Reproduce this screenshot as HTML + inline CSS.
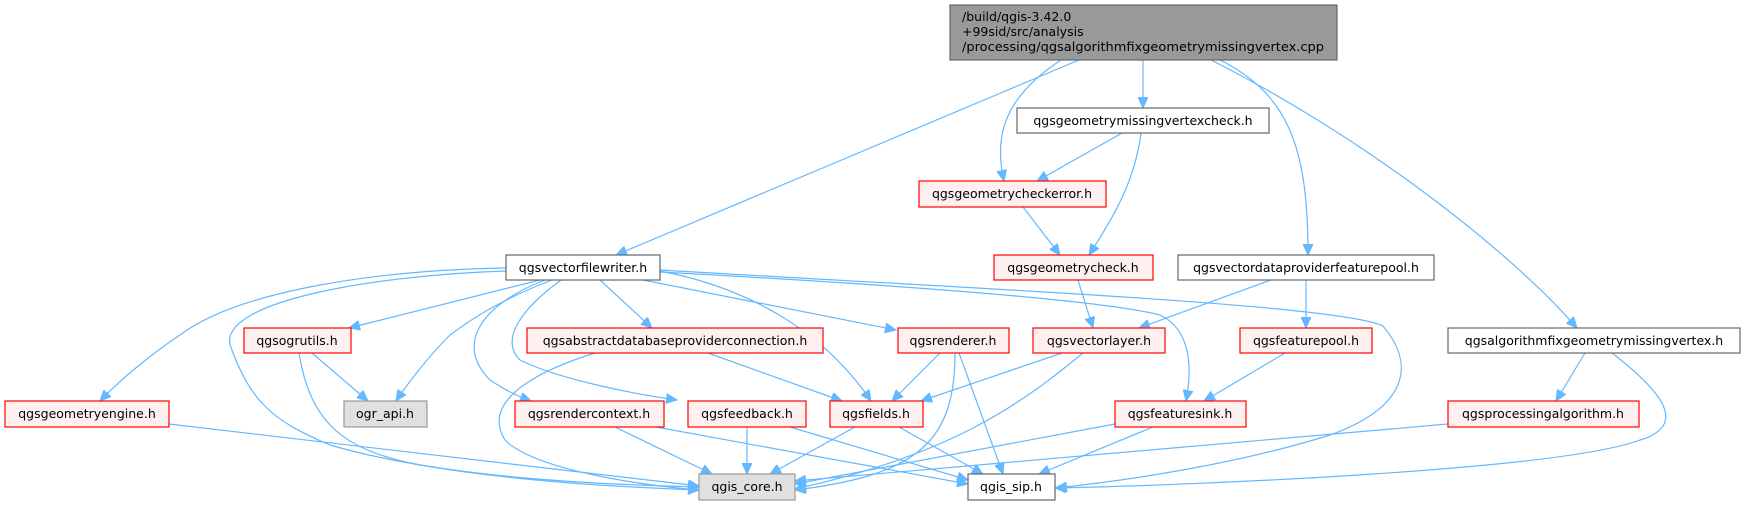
<!DOCTYPE html>
<html><head><meta charset="utf-8"><style>
html,body{margin:0;padding:0;background:#fff;}
svg{display:block;}
text{font-family:"DejaVu Sans","Liberation Sans",sans-serif;font-size:12.5px;fill:#000;}
.e{fill:none;stroke:#63b8ff;stroke-width:1.2;}
.r{fill:#fff0f0;stroke:#ff0000;stroke-width:1.2;}
.w{fill:#fff;stroke:#666;stroke-width:1.2;}
.g{fill:#e0e0e0;stroke:#999;stroke-width:1.2;}
</style></head><body>
<svg width="1745" height="505" viewBox="0 0 1745 505" xmlns="http://www.w3.org/2000/svg">
<defs>
<marker id="a" markerUnits="userSpaceOnUse" markerWidth="12" markerHeight="10" refX="11" refY="5" orient="auto">
<path d="M0,0 L11,5 L0,10 z" fill="#63b8ff" stroke="#63b8ff"/>
</marker>
</defs>
<g marker-end="url(#a)">
<!-- from top cpp -->
<path class="e" d="M1079,60 L616,255"/>
<path class="e" d="M1061,60 C1000,100 995,140 1004,181"/>
<path class="e" d="M1143,60 L1143,108"/>
<path class="e" d="M1220,60 C1290,95 1308,150 1308,255"/>
<path class="e" d="M1211,60 C1350,130 1500,240 1577,328"/>
<!-- missingvertexcheck -->
<path class="e" d="M1122,133 L1037,181"/>
<path class="e" d="M1141,133 C1135,180 1115,215 1089,255"/>
<!-- checkerror -->
<path class="e" d="M1023,207 L1060,255"/>
<!-- geometrycheck -->
<path class="e" d="M1078,280 L1093,328"/>
<!-- vectordataproviderfeaturepool -->
<path class="e" d="M1271,280 L1139,328"/>
<path class="e" d="M1306,280 L1306,328"/>
<!-- featurepool -->
<path class="e" d="M1285,353 L1204,401"/>
<!-- algorithmfix -->
<path class="e" d="M1585,353 L1556,401"/>
<path class="e" d="M1612,353 C1660,390 1690,425 1640,440 C1560,470 1200,485 1055,488"/>
<!-- processingalgorithm -->
<path class="e" d="M1448,424 L795,481"/>
<!-- featuresink -->
<path class="e" d="M1115,424 L795,484"/>
<path class="e" d="M1153,427 L1039,474"/>
<!-- vectorlayer -->
<path class="e" d="M1062,353 L921,401"/>
<path class="e" d="M1083,353 C1020,405 950,455 795,489"/>
<!-- renderer -->
<path class="e" d="M940,353 L892,401"/>
<path class="e" d="M955,353 C955,440 920,475 795,490"/>
<path class="e" d="M959,353 L1003,474"/>
<!-- abstract -->
<path class="e" d="M708,353 L842,401"/>
<path class="e" d="M595,353 C540,370 480,400 505,440 C535,470 640,485 699,490"/>
<!-- fields -->
<path class="e" d="M855,427 L770,474"/>
<path class="e" d="M899,427 L983,474"/>
<!-- feedback -->
<path class="e" d="M747,427 L747,474"/>
<path class="e" d="M790,427 L968,480"/>
<!-- rendercontext -->
<path class="e" d="M615,427 L712,474"/>
<path class="e" d="M656,427 L968,484"/>
<!-- ogrutils -->
<path class="e" d="M312,353 L368,401"/>
<path class="e" d="M299,353 C310,420 340,450 420,465 C520,482 620,487 699,490"/>
<!-- geometryengine -->
<path class="e" d="M169,424 L699,486"/>
<!-- vectorfilewriter -->
<path class="e" d="M506,268 C380,270 240,290 180,335 C150,355 120,380 100,401"/>
<path class="e" d="M506,271 C380,275 220,300 230,345 C250,400 270,420 330,445 C450,480 620,485 699,487"/>
<path class="e" d="M540,280 L349,328"/>
<path class="e" d="M552,280 C500,300 470,320 450,335 C430,355 410,380 396,401"/>
<path class="e" d="M545,280 C480,305 455,345 490,380 C505,390 515,395 531,401"/>
<path class="e" d="M561,280 C520,310 500,340 520,360 C560,380 640,395 677,400"/>
<path class="e" d="M600,280 L652,328"/>
<path class="e" d="M643,280 L896,330"/>
<path class="e" d="M660,271 C760,290 830,340 871,401"/>
<path class="e" d="M660,272 C900,285 1100,300 1160,315 C1192,330 1192,370 1186,401"/>
<path class="e" d="M660,270 C1000,290 1340,305 1383,326 C1420,370 1400,410 1330,435 C1250,460 1150,478 1056,488"/>
</g>
<!-- nodes -->
<rect x="950" y="5" width="387" height="55" fill="#999" stroke="#666" stroke-width="1.2"/>
<text x="962" y="21">/build/qgis-3.42.0</text>
<text x="962" y="36">+99sid/src/analysis</text>
<text x="962" y="51" textLength="362" lengthAdjust="spacingAndGlyphs">/processing/qgsalgorithmfixgeometrymissingvertex.cpp</text>

<g text-anchor="middle">
<rect class="w" x="1017" y="108" width="252" height="25"/><text x="1143" y="125">qgsgeometrymissingvertexcheck.h</text>
<rect class="r" x="919" y="181" width="187" height="26"/><text x="1012" y="198">qgsgeometrycheckerror.h</text>
<rect class="w" x="506" y="255" width="154" height="25"/><text x="583" y="272">qgsvectorfilewriter.h</text>
<rect class="r" x="994" y="255" width="159" height="25"/><text x="1073" y="272">qgsgeometrycheck.h</text>
<rect class="w" x="1178" y="255" width="256" height="25"/><text x="1306" y="272">qgsvectordataproviderfeaturepool.h</text>
<rect class="r" x="244" y="328" width="107" height="25"/><text x="297" y="345">qgsogrutils.h</text>
<rect class="r" x="527" y="328" width="296" height="25"/><text x="675" y="345">qgsabstractdatabaseproviderconnection.h</text>
<rect class="r" x="898" y="328" width="111" height="25"/><text x="953" y="345">qgsrenderer.h</text>
<rect class="r" x="1033" y="328" width="132" height="25"/><text x="1099" y="345">qgsvectorlayer.h</text>
<rect class="r" x="1240" y="328" width="132" height="25"/><text x="1306" y="345">qgsfeaturepool.h</text>
<rect class="w" x="1448" y="328" width="292" height="25"/><text x="1594" y="345">qgsalgorithmfixgeometrymissingvertex.h</text>
<rect class="r" x="5" y="401" width="164" height="26"/><text x="87" y="418">qgsgeometryengine.h</text>
<rect class="g" x="344" y="401" width="83" height="26"/><text x="385" y="418">ogr_api.h</text>
<rect class="r" x="515" y="401" width="149" height="26"/><text x="589" y="418">qgsrendercontext.h</text>
<rect class="r" x="688" y="401" width="118" height="26"/><text x="747" y="418">qgsfeedback.h</text>
<rect class="r" x="830" y="401" width="93" height="26"/><text x="876" y="418">qgsfields.h</text>
<rect class="r" x="1115" y="401" width="131" height="26"/><text x="1180" y="418">qgsfeaturesink.h</text>
<rect class="r" x="1448" y="401" width="191" height="26"/><text x="1543" y="418">qgsprocessingalgorithm.h</text>
<rect class="g" x="699" y="474" width="96" height="26"/><text x="747" y="491">qgis_core.h</text>
<rect class="w" x="968" y="474" width="87" height="26"/><text x="1011" y="491">qgis_sip.h</text>
</g>
</svg>
</body></html>
